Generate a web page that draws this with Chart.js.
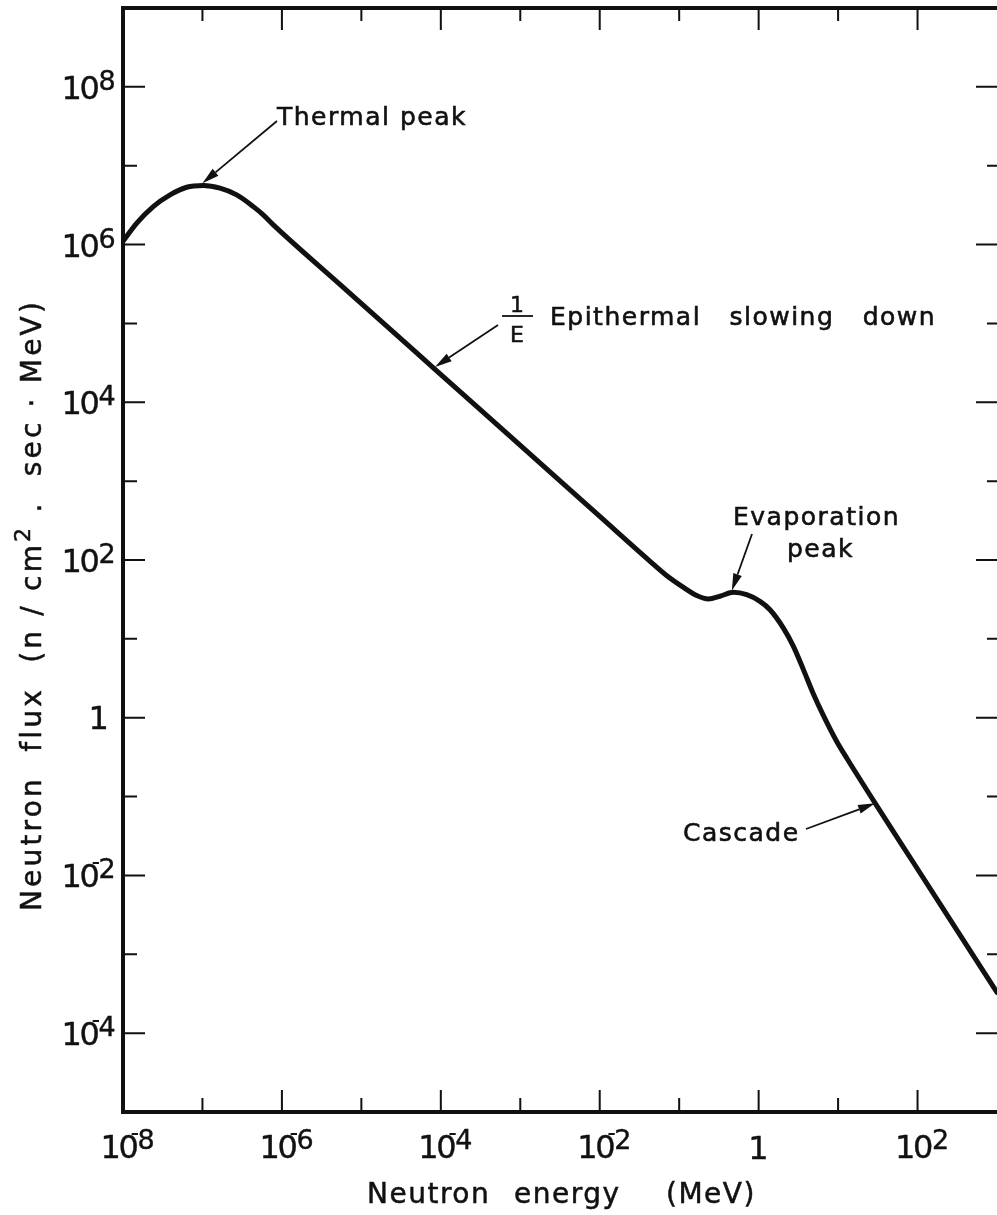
<!DOCTYPE html>
<html>
<head>
<meta charset="utf-8">
<script src="https://cdn.jsdelivr.net/npm/chart.js@4.4.1/dist/chart.umd.min.js"></script>
<style>
  html, body { margin: 0; padding: 0; background: #ffffff; }
  #wrap { position: relative; width: 997px; height: 1215px; }
</style>
</head>
<body>
<div id="wrap"><canvas id="spectrum"></canvas></div>
<script>
// Neutron energy (MeV) along the spectrum curve
const energyMeV = [1.0e-8, 1.49e-8, 2.40e-8, 3.91e-8, 6.34e-8, 1.03e-7, 1.66e-7, 2.70e-7, 4.37e-7, 5.82e-7,
  7.80e-7, 5.87e-6, 4.09e-5, 8.45e-5, 8.11e-4, 1.01e-2, 4.30e-2, 7.0e-2, 1.12e-1, 1.66e-1,
  2.33e-1, 3.27e-1, 4.81e-1, 7.08e-1, 1.04, 1.39, 2.05, 2.74, 3.66, 4.89,
  6.52, 9.61, 13.0, 30.9, 87.7, 314, 1000];
// Neutron flux (n/cm²·sec·MeV) at each energy
const neutronFlux = [1.10e6, 1.87e6, 3.03e6, 4.27e6, 5.33e6, 5.60e6, 5.19e6, 4.27e6, 3.03e6, 2.38e6,
  1.78e6, 2.89e5, 5.04e4, 2.62e4, 3.43e3, 354, 96.2, 63.1, 45.2, 35.5,
  32.1, 34.7, 38.9, 36.3, 29.9, 23.4, 13.7, 8.04, 4.07, 2.00,
  1.07, 0.50, 0.302, 0.0757, 0.0148, 2.01e-3, 3.28e-4];

// Axis ranges (powers of ten) and labelled decades
const xDecades = [-8, -7, -6, -5, -4, -3, -2, -1, 0, 1, 2, 3];
const yDecades = [-5, -4, -3, -2, -1, 0, 1, 2, 3, 4, 5, 6, 7, 8, 9];
const xLabelExponents = [-8, -6, -4, -2, 0, 2];
const yLabelExponents = [8, 6, 4, 2, 0, -2, -4];

const xTitleWords = ['Neutron', 'energy', '(MeV)'];
const yTitleParts = ['Neutron  flux  (n / cm', '2', ' .  sec · MeV)'];

// Callouts: text and the point on the curve (energy, flux) each arrow points to
const calloutTexts = [['Thermal peak'], ['Epithermal   slowing   down'], ['Evaporation', 'peak'], ['Cascade']];
const calloutTargets = [[1.0e-7, 6.0e6], [8.45e-5, 2.8e4], [0.46, 41], [29.2, 0.082]];

// ---- drawing styles / layout ----
const INK = '#111111';
const FONT = '"DejaVu Sans"';
const calloutLayout = [
  { lines: [[277, 125]], tail: [277, 121] },
  { lines: [[550, 325]], tail: [498, 325], fraction: { x: 517, bar: 316 } },
  { lines: [[733, 525], [787, 557]], tail: [752, 534] },
  { lines: [[683, 841]], tail: [806, 829] }
];

function measure(ctx, s, font) {
  ctx.font = font;
  const m = ctx.measureText(s);
  return { L: m.actualBoundingBoxLeft, R: m.actualBoundingBoxRight,
           A: m.actualBoundingBoxAscent, D: m.actualBoundingBoxDescent, W: m.width };
}

// text with a hairline outline so the lettering reads a little heavier
function inkText(ctx, s, x, y, weight) {
  ctx.fillText(s, x, y);
  if (weight) {
    ctx.lineWidth = weight;
    ctx.strokeText(s, x, y);
  }
}

// "10" with a raised exponent; the "0" is centred on cx0, digit tops at baseTop
function drawPower(ctx, exp, cx0, baseTop) {
  const baseFont = '32px ' + FONT;
  const expFont = '27px ' + FONT;
  ctx.textAlign = 'left';
  ctx.textBaseline = 'alphabetic';
  ctx.letterSpacing = '0px';
  const m0 = measure(ctx, '0', baseFont);
  const m1 = measure(ctx, '1', baseFont);
  const w0 = m0.L + m0.R, w1 = m1.L + m1.R;
  const baseLine = baseTop + m0.A;
  const left0 = cx0 - w0 / 2;
  const right0 = left0 + w0;
  ctx.font = baseFont;
  inkText(ctx, '0', left0 + m0.L, baseLine, 0.4);
  inkText(ctx, '1', left0 - 2 - w1 + m1.L, baseLine, 0.4);
  const digits = String(Math.abs(exp));
  const me = measure(ctx, digits, expFont);
  const expTop = baseTop - 6;
  ctx.font = expFont;
  inkText(ctx, digits, right0 + 1 + me.L, expTop + me.A, 0.4);
  if (exp < 0) {
    const dashFont = '24px ' + FONT;
    const md = measure(ctx, '-', dashFont);
    const dashY = baseTop - 1;
    const base = dashY + (md.A - md.D) / 2;
    ctx.font = dashFont;
    ctx.fillText('-', right0 + 1 - md.R, base);
  }
}

function drawOne(ctx, cx, top) {
  const f = '32px ' + FONT;
  const m = measure(ctx, '1', f);
  ctx.font = f;
  ctx.textAlign = 'left';
  ctx.textBaseline = 'alphabetic';
  inkText(ctx, '1', cx - (m.R - m.L) / 2, top + m.A, 0.4);
}

function arrow(ctx, x0, y0, x1, y1) {
  const ang = Math.atan2(y1 - y0, x1 - x0);
  const len = 17, half = 4.5;
  const bx = x1 - len * Math.cos(ang), by = y1 - len * Math.sin(ang);
  ctx.beginPath();
  ctx.moveTo(x0, y0);
  ctx.lineTo(bx, by);
  ctx.lineWidth = 1.8;
  ctx.strokeStyle = INK;
  ctx.stroke();
  ctx.beginPath();
  ctx.moveTo(x1, y1);
  ctx.lineTo(bx + half * Math.sin(ang), by - half * Math.cos(ang));
  ctx.lineTo(bx - half * Math.sin(ang), by + half * Math.cos(ang));
  ctx.closePath();
  ctx.fillStyle = INK;
  ctx.fill();
}

const framePlugin = {
  id: 'frameAndLabels',
  afterDatasetsDraw(chart) {
    const ctx = chart.ctx;
    const { left, right, top, bottom } = chart.chartArea;
    const xs = chart.scales.x, ys = chart.scales.y;
    ctx.save();
    ctx.strokeStyle = INK;
    ctx.fillStyle = INK;
    ctx.lineCap = 'butt';

    // frame (left, top, bottom)
    ctx.lineWidth = 4;
    ctx.beginPath();
    ctx.moveTo(left, top - 2); ctx.lineTo(left, bottom + 2);
    ctx.moveTo(left - 2, top); ctx.lineTo(right, top);
    ctx.moveTo(left - 2, bottom); ctx.lineTo(right, bottom);
    ctx.stroke();

    // inward decade ticks on all four sides
    ctx.lineWidth = 2;
    ctx.beginPath();
    xDecades.forEach(e => {
      const px = xs.getPixelForValue(Math.pow(10, e));
      if (px <= left + 1 || px >= right - 1) return;
      const long = e % 2 === 0;
      ctx.moveTo(px, bottom); ctx.lineTo(px, bottom - (long ? 22 : 14));
      ctx.moveTo(px, top); ctx.lineTo(px, top + (long ? 22 : 13));
    });
    yDecades.forEach(e => {
      const py = ys.getPixelForValue(Math.pow(10, e));
      if (py <= top + 1 || py >= bottom - 1) return;
      const long = e % 2 === 0;
      ctx.moveTo(left, py); ctx.lineTo(left + (long ? 22 : 14), py);
      ctx.moveTo(right, py); ctx.lineTo(right - (long ? 21 : 10), py);
    });
    ctx.stroke();

    // tick labels
    ctx.fillStyle = INK;
    ctx.strokeStyle = INK;
    yLabelExponents.forEach(e => {
      const py = ys.getPixelForValue(Math.pow(10, e));
      if (e === 0) drawOne(ctx, 99, py - 12);
      else drawPower(ctx, e, 90, py - 11);
    });
    xLabelExponents.forEach(e => {
      const px = xs.getPixelForValue(Math.pow(10, e));
      if (e === 0) drawOne(ctx, px, 1136);
      else drawPower(ctx, e, px + 6, 1135);
    });

    // axis titles
    ctx.textAlign = 'left';
    ctx.textBaseline = 'alphabetic';
    ctx.font = '28px ' + FONT;
    ctx.letterSpacing = '1.5px';
    const xWordLefts = [367, 514, 666];
    xTitleWords.forEach((w, i) => inkText(ctx, w, xWordLefts[i], 1203, 0.5));

    ctx.save();
    ctx.translate(41, 605);
    ctx.rotate(-Math.PI / 2);
    ctx.letterSpacing = '3.2px';
    const mainF = '28px ' + FONT, supF = '22px ' + FONT;
    ctx.font = mainF; const wA = ctx.measureText(yTitleParts[0]).width;
    ctx.font = supF;  const wB = ctx.measureText(yTitleParts[1]).width;
    ctx.font = mainF; const wC = ctx.measureText(yTitleParts[2]).width;
    const x0 = -(wA + wB + wC) / 2;
    ctx.font = mainF; inkText(ctx, yTitleParts[0], x0, 0, 0.5);
    ctx.font = supF;  inkText(ctx, yTitleParts[1], x0 + wA, -11, 0.5);
    ctx.font = mainF; inkText(ctx, yTitleParts[2], x0 + wA + wB, 0, 0.5);
    ctx.restore();

    // callouts
    calloutTexts.forEach((lines, i) => {
      const lay = calloutLayout[i];
      ctx.textAlign = 'left';
      ctx.font = '25px ' + FONT;
      ctx.letterSpacing = '1.5px';
      lines.forEach((t, j) => inkText(ctx, t, lay.lines[j][0], lay.lines[j][1], 0.6));
      const tx = xs.getPixelForValue(calloutTargets[i][0]);
      const ty = ys.getPixelForValue(calloutTargets[i][1]);
      arrow(ctx, lay.tail[0], lay.tail[1], tx, ty);
      if (lay.fraction) {
        const f = lay.fraction;
        ctx.letterSpacing = '0px';
        ctx.textAlign = 'center';
        ctx.font = '22px ' + FONT;
        inkText(ctx, '1', f.x, f.bar - 4, 0.5);
        inkText(ctx, 'E', f.x, f.bar + 26, 0.5);
        ctx.lineWidth = 1.8;
        ctx.beginPath();
        ctx.moveTo(f.x - 15, f.bar); ctx.lineTo(f.x + 16, f.bar);
        ctx.stroke();
      }
    });
    ctx.restore();
  }
};

new Chart(document.getElementById('spectrum'), {
  type: 'line',
  data: {
    datasets: [{
      data: energyMeV.map((e, i) => ({ x: e, y: neutronFlux[i] })),
      borderColor: INK,
      borderWidth: 5,
      pointRadius: 0,
      fill: false,
      cubicInterpolationMode: 'monotone',
      borderCapStyle: 'round',
      borderJoinStyle: 'round'
    }]
  },
  options: {
    responsive: true,
    maintainAspectRatio: false,
    animation: false,
    events: [],
    layout: { padding: { left: 123, top: 8, right: 0, bottom: 103 } },
    plugins: { legend: { display: false }, tooltip: { enabled: false } },
    scales: {
      x: { type: 'logarithmic', min: 1e-8, max: 1e3, display: false },
      y: { type: 'logarithmic', min: 1e-5, max: 1e9, display: false }
    }
  },
  plugins: [framePlugin]
});
</script>
</body>
</html>
